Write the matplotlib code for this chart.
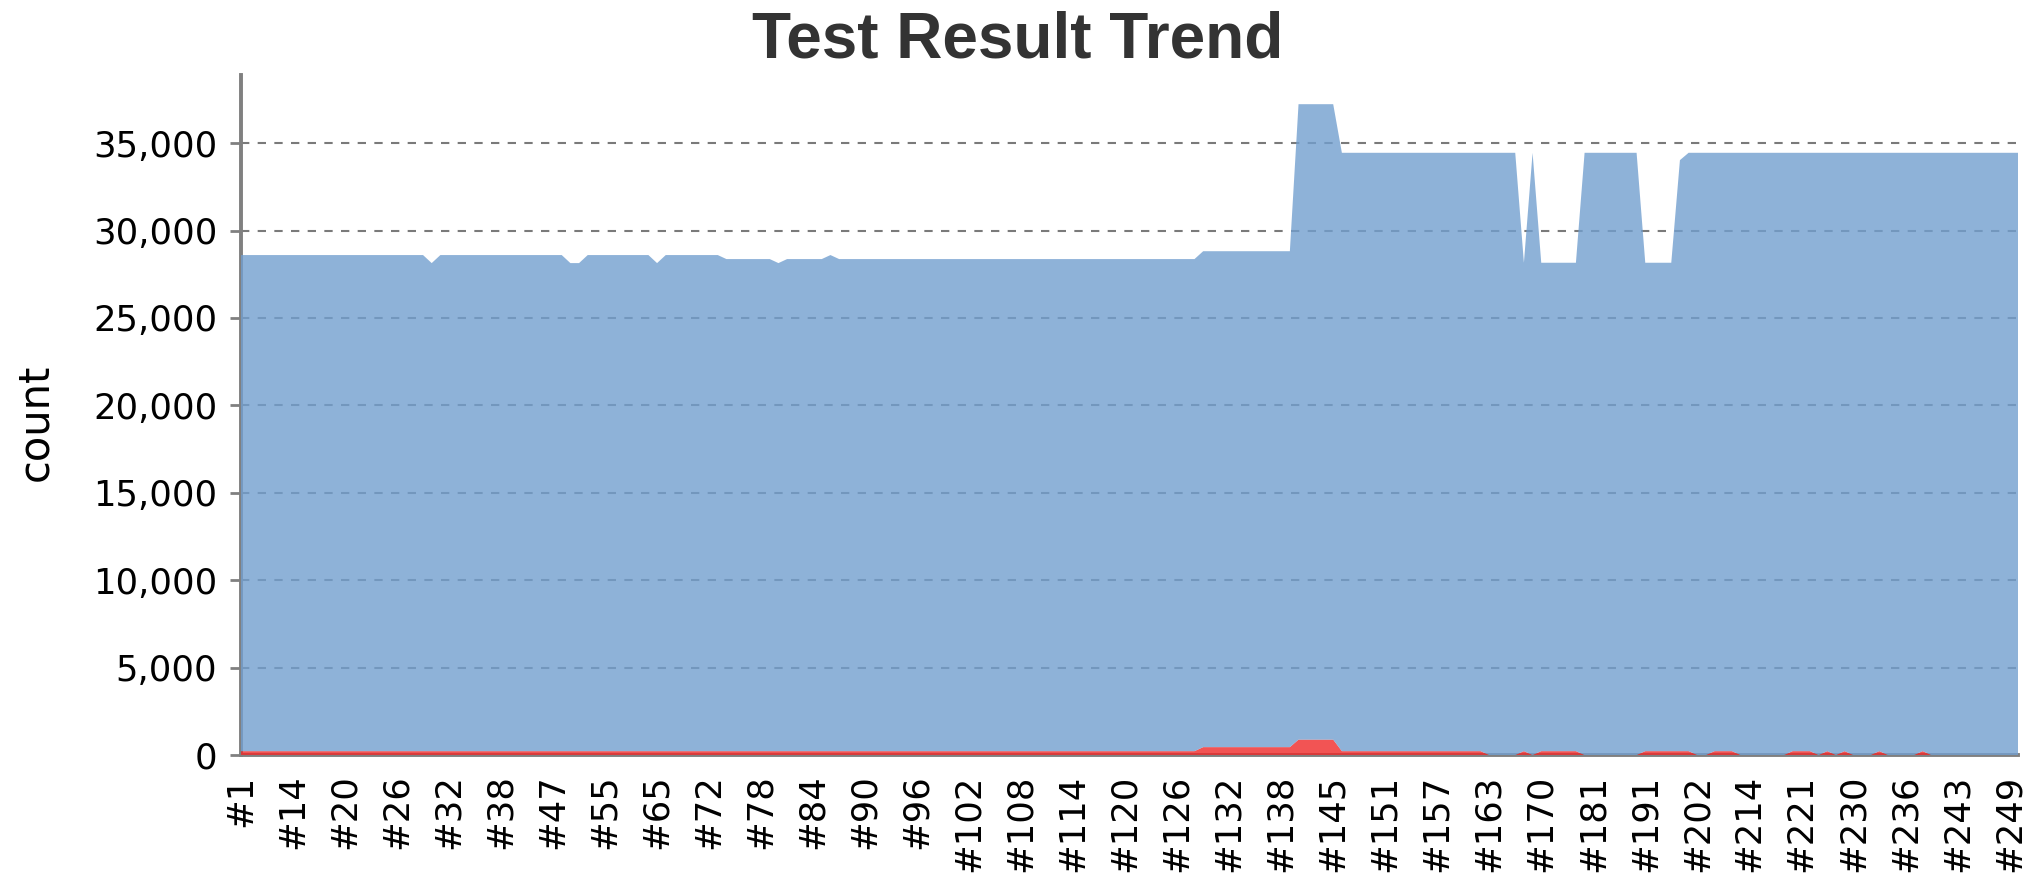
import matplotlib
matplotlib.use('Agg')
import matplotlib.pyplot as plt
import numpy as np
from matplotlib.ticker import StrMethodFormatter

# build labels shown on the x axis (every 6th build in the list)
build_labels = ['#1', '#14', '#20', '#26', '#32', '#38', '#47', '#55', '#65', '#72',
                '#78', '#84', '#90', '#96', '#102', '#108', '#114', '#120', '#126', '#132',
                '#138', '#145', '#151', '#157', '#163', '#170', '#181', '#191', '#202', '#214',
                '#221', '#230', '#236', '#243', '#249']

# total test count per build, as (level, number of consecutive builds)
total_levels = [28600, 28140, 28600, 28140, 28600, 28140, 28600, 28370, 28140, 28370,
                28600, 28370, 28820, 37230, 34450, 28160, 34450, 28160, 34450, 28160,
                34030, 34450]
total_runs = [22, 1, 15, 2, 8, 1, 7, 6, 1, 5,
              1, 42, 11, 5, 21, 1, 1, 5, 7, 4,
              1, 39]

# failed tests per build, same encoding
failed_levels = [220, 450, 880, 220, 0, 220, 0, 220, 0, 220, 0, 220,
                 0, 220, 0, 220, 0, 220, 0, 220, 0, 220, 0]
failed_runs = [111, 11, 5, 17, 4, 1, 1, 5, 7, 6, 2, 3,
               6, 3, 1, 1, 1, 1, 3, 1, 4, 1, 11]

total = np.repeat(total_levels, total_runs)
failed = np.repeat(failed_levels, failed_runs)
passed = total - failed
x = np.arange(len(total))

W, H = 2042, 876
fig = plt.figure(figsize=(W / 100, H / 100), dpi=100)
ax = fig.add_axes([241 / W, 1 - 755 / H, (2018 - 241) / W, (755 - 75) / H])

ax.stackplot(x, failed, passed, colors=['#ef2929', '#729fcf'], alpha=0.8,
             linewidth=0, zorder=3)

ax.set_xlim(0, len(total) - 1)
ax.set_ylim(0, 38900)
ax.set_yticks(np.arange(0, 35001, 5000))
ax.yaxis.set_major_formatter(StrMethodFormatter('{x:,.0f}'))
ax.set_xticks(x[::6])
ax.set_xticklabels(build_labels, rotation=90, va='top', ha='center')

ax.tick_params(axis='x', length=0, pad=14, labelsize=25.5)
ax.tick_params(axis='y', length=8, width=2, color='#808080', pad=9, labelsize=25.5)

ax.set_axisbelow(True)
ax.grid(axis='y', color='#7a7a7a', linestyle=(0, (4, 4)), linewidth=1.5)

for s in ['top', 'right']:
    ax.spines[s].set_visible(False)
for s in ['left', 'bottom']:
    ax.spines[s].set_color('#808080')
    ax.spines[s].set_linewidth(2.8)

fig.text(1017.5 / W, 1 - 58 / H, 'Test Result Trend', ha='center', va='baseline',
         fontsize=46, fontweight='bold', family='Liberation Sans', color='#333333')
fig.text(35 / W, 1 - 422 / H, 'count', rotation=90, ha='center', va='center',
         fontsize=30)

fig.savefig('out.png', dpi=100)
